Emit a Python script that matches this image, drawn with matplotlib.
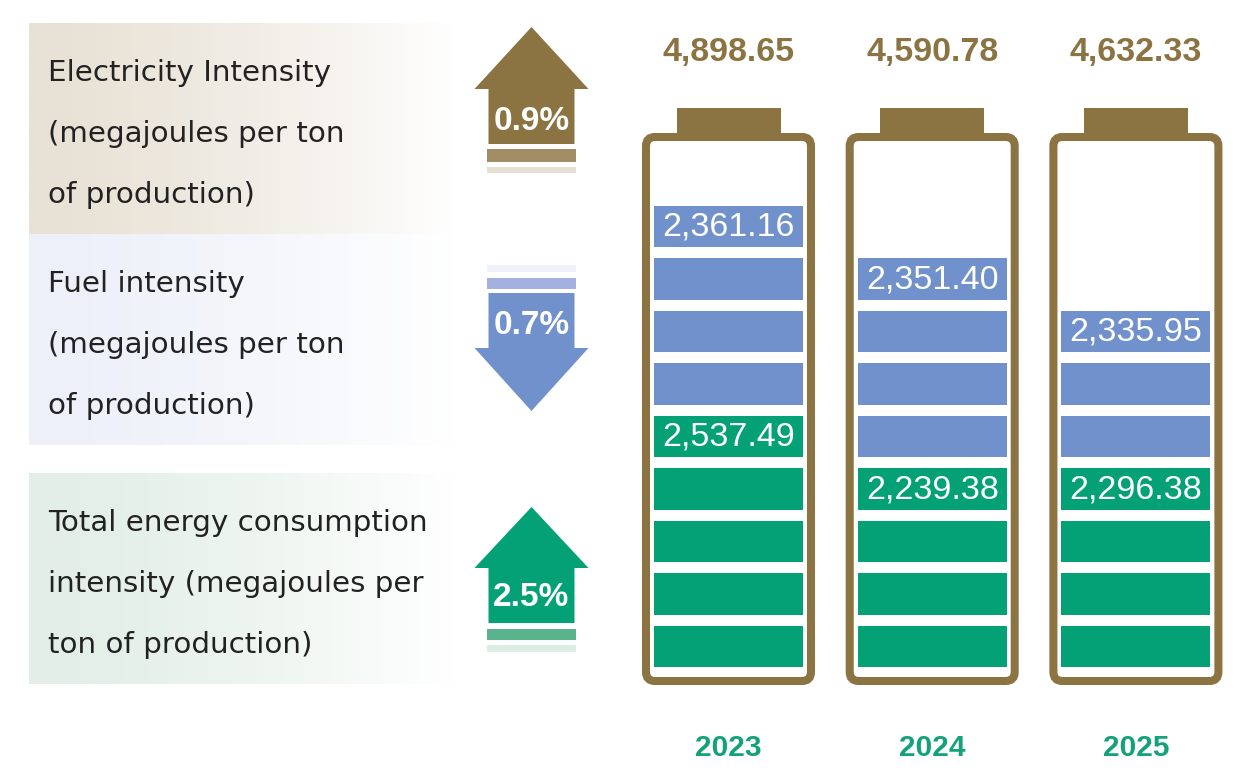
import numpy as np
import matplotlib
matplotlib.use('Agg')
from matplotlib import pyplot as plt
from matplotlib import font_manager
from matplotlib.patches import FancyBboxPatch, Rectangle, Polygon
from matplotlib.colors import LinearSegmentedColormap

years = ['2023', '2024', '2025']
total_intensity = [4898.65, 4590.78, 4632.33]
fuel_intensity = [2361.16, 2351.40, 2335.95]
elec_intensity = [2537.49, 2239.38, 2296.38]
fuel_segments = [4, 4, 3]
elec_segments = [5, 4, 4]

labels = [['Electricity Intensity', '(megajoules per ton', 'of production)'],
          ['Fuel intensity', '(megajoules per ton', 'of production)'],
          ['Total energy consumption', 'intensity (megajoules per', 'ton of production)']]
changes = ['0.9%', '0.7%', '2.5%']
directions = ['up', 'down', 'up']

brown = '#8C7342'
blue = '#7191CC'
green = '#05A176'
band_cols = ['#E8E1D5', '#EDF0F9', '#E2EEE7']
arrow_cols = [brown, blue, green]
bar_cols = ['#A38D66', '#A4B0DE', '#5BB38E']
light_cols = ['#E4DED4', '#EEF1F9', '#DCEDE4']


def find_font(name, bold):
    # pick the regular-width file, not the narrow one
    for f in font_manager.fontManager.ttflist:
        if f.name == name and 'Narrow' not in f.fname and f.style == 'normal':
            if (f.weight in (700, 'bold')) == bold:
                return font_manager.FontProperties(fname=f.fname)
    return font_manager.FontProperties(family=name, weight='bold' if bold else 'normal')


bold_fp = find_font('Liberation Sans', True)
reg_fp = find_font('Liberation Sans', False)

fig = plt.figure(figsize=(12.55, 7.76), dpi=100)
ax = fig.add_axes([0, 0, 1, 1])
ax.set_xlim(0, 1255)
ax.set_ylim(776, 0)
ax.axis('off')

# left panels with fading background
band_tops = [23, 234, 473]
band_h = 211
grad = np.linspace(0, 1, 300) ** 1.4
for i in range(3):
    cmap = LinearSegmentedColormap.from_list('b', [band_cols[i], '#FFFFFF'])
    ax.imshow(grad[None, :], cmap=cmap, aspect='auto', interpolation='bilinear',
              extent=(29, 455, band_tops[i] + band_h, band_tops[i]), zorder=0)
    for j, line in enumerate(labels[i]):
        ax.text(48, band_tops[i] + 58 + 61 * j, line, fontsize=21.2, color='#222222',
                family='DejaVu Sans', va='baseline', ha='left')
ax.set_xlim(0, 1255)
ax.set_ylim(776, 0)

# arrows
ax_c = 531.5
arrow_geo = [(27, 89, 144, 149, 162, 167, 173),
             (411, 348, 293, 289, 278, 272, 265),
             (507, 568, 623, 629, 640, 645, 652)]
text_y = [122, 325, 598]
for i in range(3):
    tip, base, end, b1, b2, l1, l2 = arrow_geo[i]
    pts = [(ax_c, tip), (ax_c + 57, base), (ax_c + 43, base), (ax_c + 43, end),
           (ax_c - 43, end), (ax_c - 43, base), (ax_c - 57, base)]
    ax.add_patch(Polygon(pts, closed=True, fc=arrow_cols[i], ec='none', zorder=2))
    ax.add_patch(Rectangle((ax_c - 44.5, min(b1, b2)), 89, abs(b2 - b1), fc=bar_cols[i], ec='none'))
    ax.add_patch(Rectangle((ax_c - 44.5, min(l1, l2)), 89, abs(l2 - l1), fc=light_cols[i], ec='none'))
    ax.text(ax_c, text_y[i], changes[i], color='white', fontproperties=bold_fp, fontsize=24,
            ha='center', va='center', zorder=3)

# batteries
centers = [728.5 + 203.7 * i for i in range(len(years))]
seg_w = 149
seg_h = 41.5
pitch = 52.5
base_top = 667 - seg_h
for i, cx in enumerate(centers):
    ax.add_patch(Rectangle((cx - 52, 108), 104, 28, fc=brown, ec='none', zorder=1))
    ax.add_patch(FancyBboxPatch((cx - 82.5, 137), 165, 544,
                                boxstyle='round,pad=0,rounding_size=9',
                                lw=5.8, ec=brown, fc='white', zorder=2))
    ne, nf = elec_segments[i], fuel_segments[i]
    g_tops = [base_top - k * pitch for k in range(ne)]
    b_tops = [base_top - (ne + k) * pitch for k in range(nf)]
    ax.bar([cx] * ne, seg_h, bottom=g_tops, width=seg_w, color=green, zorder=3)
    ax.bar([cx] * nf, seg_h, bottom=b_tops, width=seg_w, color=blue, zorder=3)
    ax.text(cx, g_tops[-1] + seg_h / 2 + 1, f'{elec_intensity[i]:,.2f}', color='white',
            fontproperties=reg_fp, fontsize=24.5, ha='center', va='center', zorder=4)
    ax.text(cx, b_tops[-1] + seg_h / 2 + 1, f'{fuel_intensity[i]:,.2f}', color='white',
            fontproperties=reg_fp, fontsize=24.5, ha='center', va='center', zorder=4)
    ax.text(cx, 53, f'{total_intensity[i]:,.2f}', color=brown, fontproperties=bold_fp,
            fontsize=24.5, ha='center', va='center')
    ax.text(cx, 748, years[i], color='#14A27A', fontproperties=bold_fp, fontsize=21.5,
            ha='center', va='center')

fig.savefig('out.png', dpi=100, facecolor='white')
